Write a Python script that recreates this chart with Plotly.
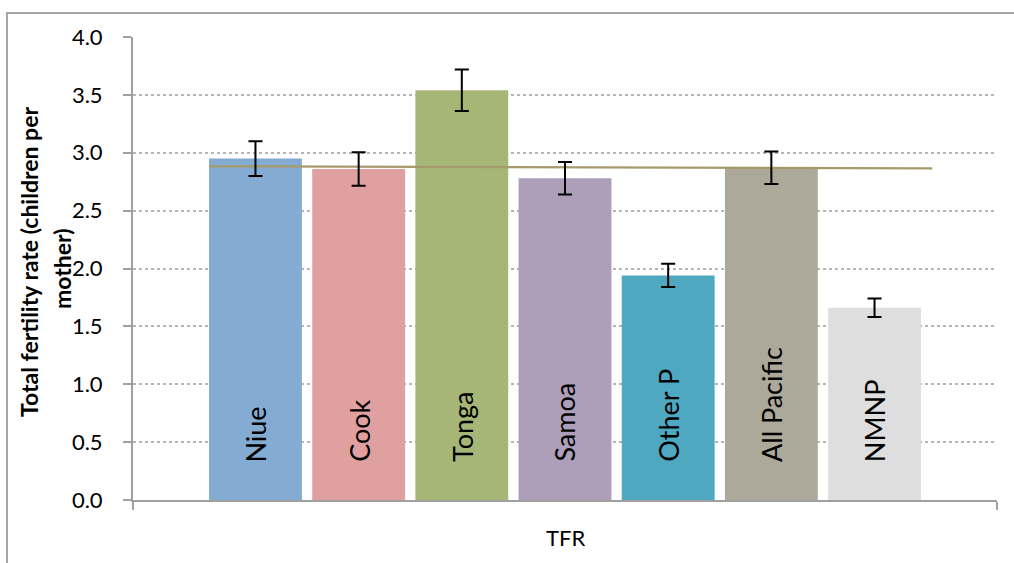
import plotly.graph_objects as go

# ---- data ----
categories = ["Niue", "Cook", "Tonga", "Samoa", "Other P", "All Pacific", "NMNP"]
tfr_values = [2.95, 2.86, 3.54, 2.78, 1.94, 2.87, 1.66]
tfr_errors = [0.15, 0.145, 0.18, 0.14, 0.10, 0.14, 0.08]
bar_colors = ["#84acd3", "#e0a09f", "#a6b677", "#ad9fb9", "#4ea8bf", "#aca99a", "#dedede"]
ref_line_x = [-0.45, 6.56]
ref_line_y = [2.883, 2.865]
y_ticks = [0.0, 0.5, 1.0, 1.5, 2.0, 2.5, 3.0, 3.5, 4.0]
y_tick_text = [f"{v:.1f}" for v in y_ticks]
x_title = "TFR"
y_title_lines = ["Total fertility rate (children per", "mother)"]

FONT = "Lato"
AXIS_GREY = "#a0a0a0"

xs = list(range(len(categories)))
pad = 1.187
x_range = [-pad, len(categories) - 1 + pad]

L, R, T, B = 133, 17, 37, 63
W, H = 1014, 563
pw, ph = W - L - R, H - T - B

fig = go.Figure()

fig.add_trace(go.Bar(
    x=xs, y=tfr_values, width=0.9,
    marker=dict(color=bar_colors, line=dict(width=0)),
    showlegend=False, hoverinfo="skip",
))

fig.add_trace(go.Scatter(
    x=ref_line_x, y=ref_line_y, mode="lines",
    line=dict(color="#a69a6c", width=2.2),
    showlegend=False, hoverinfo="skip",
))

fig.add_trace(go.Scatter(
    x=xs, y=tfr_values, mode="markers",
    marker=dict(size=1, opacity=0),
    error_y=dict(type="data", array=tfr_errors, visible=True,
                 color="black", thickness=2, width=7),
    showlegend=False, hoverinfo="skip",
))

# category labels inside bars
for xi, name in zip(xs, categories):
    fig.add_annotation(
        x=xi, y=0.31, xref="x", yref="y", text=name, showarrow=False,
        textangle=-90, xanchor="center", yanchor="bottom",
        font=dict(family=FONT, size=27, color="black"),
    )

# y-axis title (two lines, bold); positions given in pixels then converted
for text, px, py in [(y_title_lines[0], 29, 262), (y_title_lines[1], 62, 269)]:
    fig.add_annotation(
        x=(px - L) / pw, y=(H - B - py) / ph, xref="paper", yref="paper", text=text,
        showarrow=False, textangle=-90,
        font=dict(family=FONT, size=23, color="black", weight="bold"),
        xanchor="center", yanchor="middle",
    )

# x-axis title
fig.add_annotation(
    x=0.5, y=(H - B - 537) / ph, xref="paper", yref="paper", text=x_title,
    showarrow=False, font=dict(family=FONT, size=22, color="black"),
    xanchor="center", yanchor="middle",
)

# outer chart frame (partly cut off at right/bottom)
fig.add_shape(
    type="rect", xref="paper", yref="paper",
    x0=(7 - L) / pw, x1=(W + 20 - L) / pw,
    y0=(H - B - (H + 20)) / ph, y1=(H - B - 13) / ph,
    line=dict(color="#a6a6a6", width=2), fillcolor="rgba(0,0,0,0)", layer="below",
)

fig.update_layout(
    width=W, height=H,
    margin=dict(l=L, r=R, t=T, b=B),
    paper_bgcolor="white", plot_bgcolor="white",
    font=dict(family=FONT, color="black"),
    bargap=0.1,
)

fig.update_xaxes(
    range=x_range, showgrid=False, zeroline=False,
    showline=True, linecolor=AXIS_GREY, linewidth=2,
    tickmode="array", tickvals=x_range, ticktext=["", ""],
    ticks="outside", ticklen=8, tickcolor=AXIS_GREY, tickwidth=2,
)

fig.update_yaxes(
    range=[0, 4], showgrid=True, gridcolor="#b5b5b5", griddash="dot", gridwidth=1.5,
    zeroline=False, showline=True, linecolor=AXIS_GREY, linewidth=2,
    tickmode="array", tickvals=y_ticks, ticktext=y_tick_text,
    ticks="outside", ticklen=8, tickcolor=AXIS_GREY, tickwidth=2,
    tickfont=dict(family=FONT, size=22, color="black"),
    ticklabelstandoff=16,
)

fig.write_html(
    "out.html",
    config={"displayModeBar": False},
    post_script="document.body.style.margin='0';document.body.style.overflow='hidden';",
)
